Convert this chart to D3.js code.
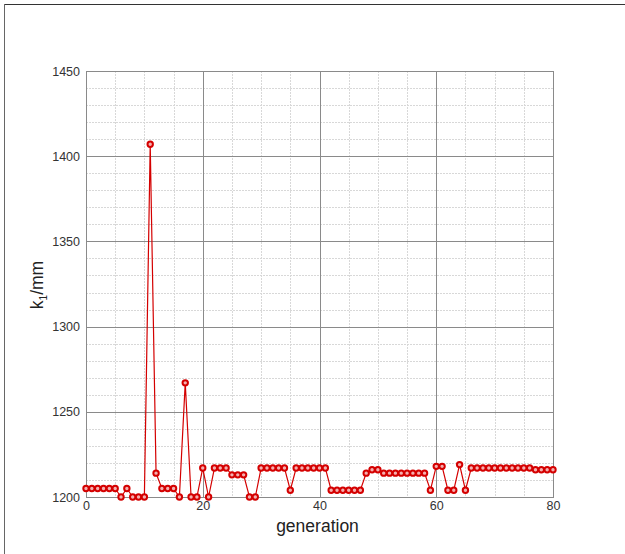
<!DOCTYPE html>
<html>
<head>
<meta charset="utf-8">
<script src="https://cdn.jsdelivr.net/npm/d3@7"></script>
<style>
  body { margin: 0; background: #fff; }
  svg { display: block; }
  text { font-family: "Liberation Sans", Arial, sans-serif; }
</style>
</head>
<body>
<div id="chart"></div>
<script>
// Data: k1 per generation
let generations = d3.range(0, 81)
let k1 = [
  1205, 1205, 1205, 1205, 1205, 1205, 1200, 1205, 1200, 1200,
  1200, 1407, 1214, 1205, 1205, 1205, 1200, 1267, 1200, 1200,
  1217, 1200, 1217, 1217, 1217, 1213, 1213, 1213, 1200, 1200,
  1217, 1217, 1217, 1217, 1217, 1204, 1217, 1217, 1217, 1217,
  1217, 1217, 1204, 1204, 1204, 1204, 1204, 1204, 1214, 1216,
  1216, 1214, 1214, 1214, 1214, 1214, 1214, 1214, 1214, 1204,
  1218, 1218, 1204, 1204, 1219, 1204, 1217, 1217, 1217, 1217,
  1217, 1217, 1217, 1217, 1217, 1217, 1217, 1216, 1216, 1216,
  1216
]
let xTicks = [0, 20, 40, 60, 80]
let yTicks = [1200, 1250, 1300, 1350, 1400, 1450]

let width = 625
let height = 554
let plotLeft = 86, plotRight = 553, plotTop = 71, plotBottom = 497

let red = `#d40000`
let gridMajor = `#8a8a8a`
let gridMinor = `#d8d8d8`

let svg = d3.select(`#chart`)
  .append(`svg`)
  .attr(`width`, width)
  .attr(`height`, height)

// Page frame from the document the chart was cut from
svg.append(`line`)
  .attr(`x1`, 4).attr(`y1`, 4.5).attr(`x2`, width).attr(`y2`, 4.5)
  .attr(`stroke`, `#333`).attr(`stroke-width`, 1.2)
svg.append(`line`)
  .attr(`x1`, 4.5).attr(`y1`, 4).attr(`x2`, 4.5).attr(`y2`, height)
  .attr(`stroke`, `#666`).attr(`stroke-width`, 1)

let x = d3.scaleLinear().domain([0, 80]).range([plotLeft, plotRight])
let y = d3.scaleLinear().domain([1200, 1450]).range([plotBottom, plotTop])

// Minor grid

let g = svg.append(`g`)

g.selectAll(`.minor-x`)
  .data(d3.range(5, 80, 5).filter(d => d % 20))
  .join(`line`)
  .attr(`x1`, d => Math.round(x(d)) + 0.5)
  .attr(`x2`, d => Math.round(x(d)) + 0.5)
  .attr(`y1`, plotTop).attr(`y2`, plotBottom)
  .attr(`stroke`, gridMinor)
  .attr(`stroke-dasharray`, `2,1`)

g.selectAll(`.minor-y`)
  .data(d3.range(1210, 1450, 10).filter(d => d % 50))
  .join(`line`)
  .attr(`y1`, d => Math.round(y(d)) + 0.5)
  .attr(`y2`, d => Math.round(y(d)) + 0.5)
  .attr(`x1`, plotLeft).attr(`x2`, plotRight)
  .attr(`stroke`, gridMinor)
  .attr(`stroke-dasharray`, `2,1`)

// Major grid

g.selectAll(`.major-x`)
  .data(xTicks.slice(1, -1))
  .join(`line`)
  .attr(`x1`, d => Math.round(x(d)) + 0.5)
  .attr(`x2`, d => Math.round(x(d)) + 0.5)
  .attr(`y1`, plotTop).attr(`y2`, plotBottom)
  .attr(`stroke`, gridMajor)

g.selectAll(`.major-y`)
  .data(yTicks.slice(1, -1))
  .join(`line`)
  .attr(`y1`, d => Math.round(y(d)) + 0.5)
  .attr(`y2`, d => Math.round(y(d)) + 0.5)
  .attr(`x1`, plotLeft).attr(`x2`, plotRight)
  .attr(`stroke`, gridMajor)

// Plot frame

svg.append(`rect`)
  .attr(`x`, plotLeft + 0.5).attr(`y`, plotTop + 0.5)
  .attr(`width`, plotRight - plotLeft).attr(`height`, plotBottom - plotTop)
  .attr(`fill`, `none`)
  .attr(`stroke`, gridMajor)

// Axes (labels only)

let yAxis = svg.append(`g`)
  .attr(`transform`, `translate(${plotLeft - 6},0)`)
  .call(d3.axisLeft(y).tickValues(yTicks).tickFormat(d3.format(`d`)).tickSize(0).tickPadding(0))
yAxis.select(`.domain`).remove()
yAxis.selectAll(`text`)
  .attr(`font-size`, 12.5)
  .attr(`fill`, `#333`)
  .attr(`font-family`, `"Liberation Sans", Arial, sans-serif`)

let xAxis = svg.append(`g`)
  .attr(`transform`, `translate(0,${plotBottom + 4})`)
  .call(d3.axisBottom(x).tickValues(xTicks).tickFormat(d3.format(`d`)).tickSize(0).tickPadding(0))
xAxis.select(`.domain`).remove()
xAxis.selectAll(`text`)
  .attr(`font-size`, 12.5)
  .attr(`fill`, `#333`)
  .attr(`font-family`, `"Liberation Sans", Arial, sans-serif`)

// Axis titles

svg.append(`text`)
  .attr(`x`, (plotLeft + plotRight) / 2 - 2)
  .attr(`y`, 532)
  .attr(`text-anchor`, `middle`)
  .attr(`font-size`, 17.5)
  .attr(`fill`, `#222`)
  .text(`generation`)

let yTitle = svg.append(`text`)
  .attr(`transform`, `translate(43,285) rotate(-90)`)
  .attr(`text-anchor`, `middle`)
  .attr(`font-size`, 17.5)
  .attr(`fill`, `#222`)
yTitle.append(`tspan`).text(`k`)
yTitle.append(`tspan`).attr(`font-size`, 10).attr(`dy`, 4).text(`1`)
yTitle.append(`tspan`).attr(`dy`, -4).text(`/mm`)

// Series

let line = d3.line()
  .x((d, i) => x(generations[i]))
  .y(d => y(d))

svg.append(`path`)
  .datum(k1)
  .attr(`d`, line)
  .attr(`fill`, `none`)
  .attr(`stroke`, red)
  .attr(`stroke-width`, 1.2)

svg.selectAll(`.pt`)
  .data(k1)
  .join(`circle`)
  .attr(`cx`, (d, i) => x(generations[i]))
  .attr(`cy`, d => y(d))
  .attr(`r`, 2.7)
  .attr(`fill`, `#f4b0b0`)
  .attr(`stroke`, red)
  .attr(`stroke-width`, 2)
</script>
</body>
</html>
